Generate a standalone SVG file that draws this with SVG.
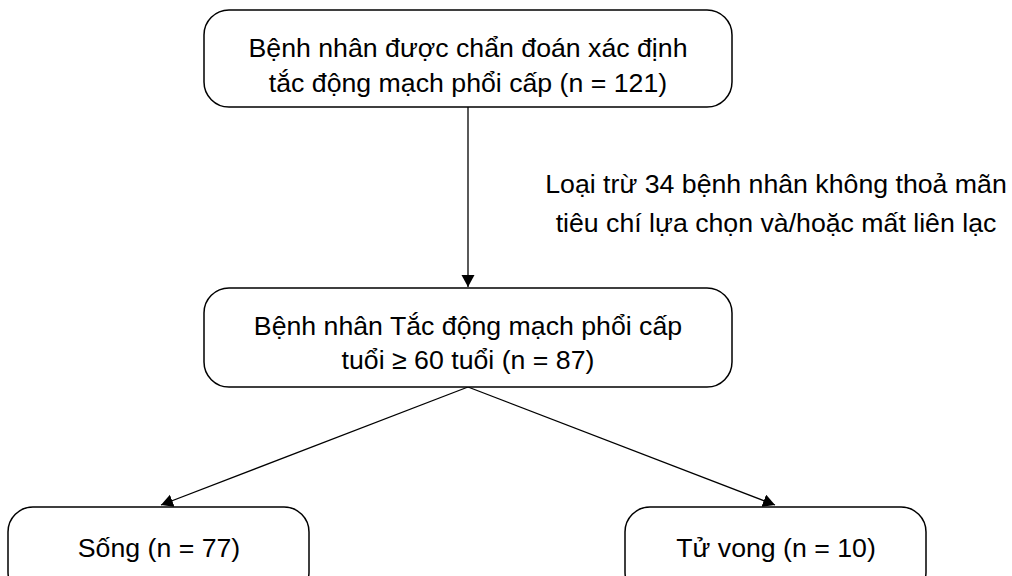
<svg xmlns="http://www.w3.org/2000/svg" width="1012" height="576" viewBox="0 0 1012 576">
<style>
.box{fill:#fff;stroke:#000;stroke-width:1.5}
.t{font-family:"Liberation Sans",Arial,sans-serif;font-size:26.7px;fill:#000;text-anchor:middle}
.c{stroke:#000;stroke-width:1.3;fill:none}
</style>
<defs>
<marker id="ah" markerUnits="userSpaceOnUse" markerWidth="14" markerHeight="14" refX="12" refY="6.5" orient="auto">
<path d="M0,0 L12,6.5 L0,13 z" fill="#000"/>
</marker>
</defs>
<rect width="1012" height="576" fill="#fff"/>
<g id="connectors">
<line class="c" x1="468" y1="107" x2="468" y2="287" marker-end="url(#ah)"/>
<line class="c" x1="468" y1="387" x2="161" y2="505" marker-end="url(#ah)"/>
<line class="c" x1="468" y1="387" x2="775" y2="505" marker-end="url(#ah)"/>
<text class="t" x="776" y="193">Loại trừ 34 bệnh nhân không thoả mãn</text>
<text class="t" x="776" y="232">tiêu chí lựa chọn và/hoặc mất liên lạc</text>
</g>
<g id="n1">
<rect class="box" x="204" y="10" width="528" height="97" rx="25"/>
<text class="t" x="468" y="57">Bệnh nhân được chẩn đoán xác định</text>
<text class="t" x="468" y="92">tắc động mạch phổi cấp (n = 121)</text>
</g>
<g id="n2">
<rect class="box" x="204" y="288" width="528" height="99" rx="25"/>
<text class="t" x="468" y="335">Bệnh nhân Tắc động mạch phổi cấp</text>
<text class="t" x="468" y="369">tuổi ≥ 60 tuổi (n = 87)</text>
</g>
<g id="n3">
<rect class="box" x="8" y="507" width="301" height="90" rx="25"/>
<text class="t" x="159" y="557">Sống (n = 77)</text>
</g>
<g id="n4">
<rect class="box" x="625" y="507" width="301" height="90" rx="25"/>
<text class="t" x="776" y="557">Tử vong (n = 10)</text>
</g>
</svg>
